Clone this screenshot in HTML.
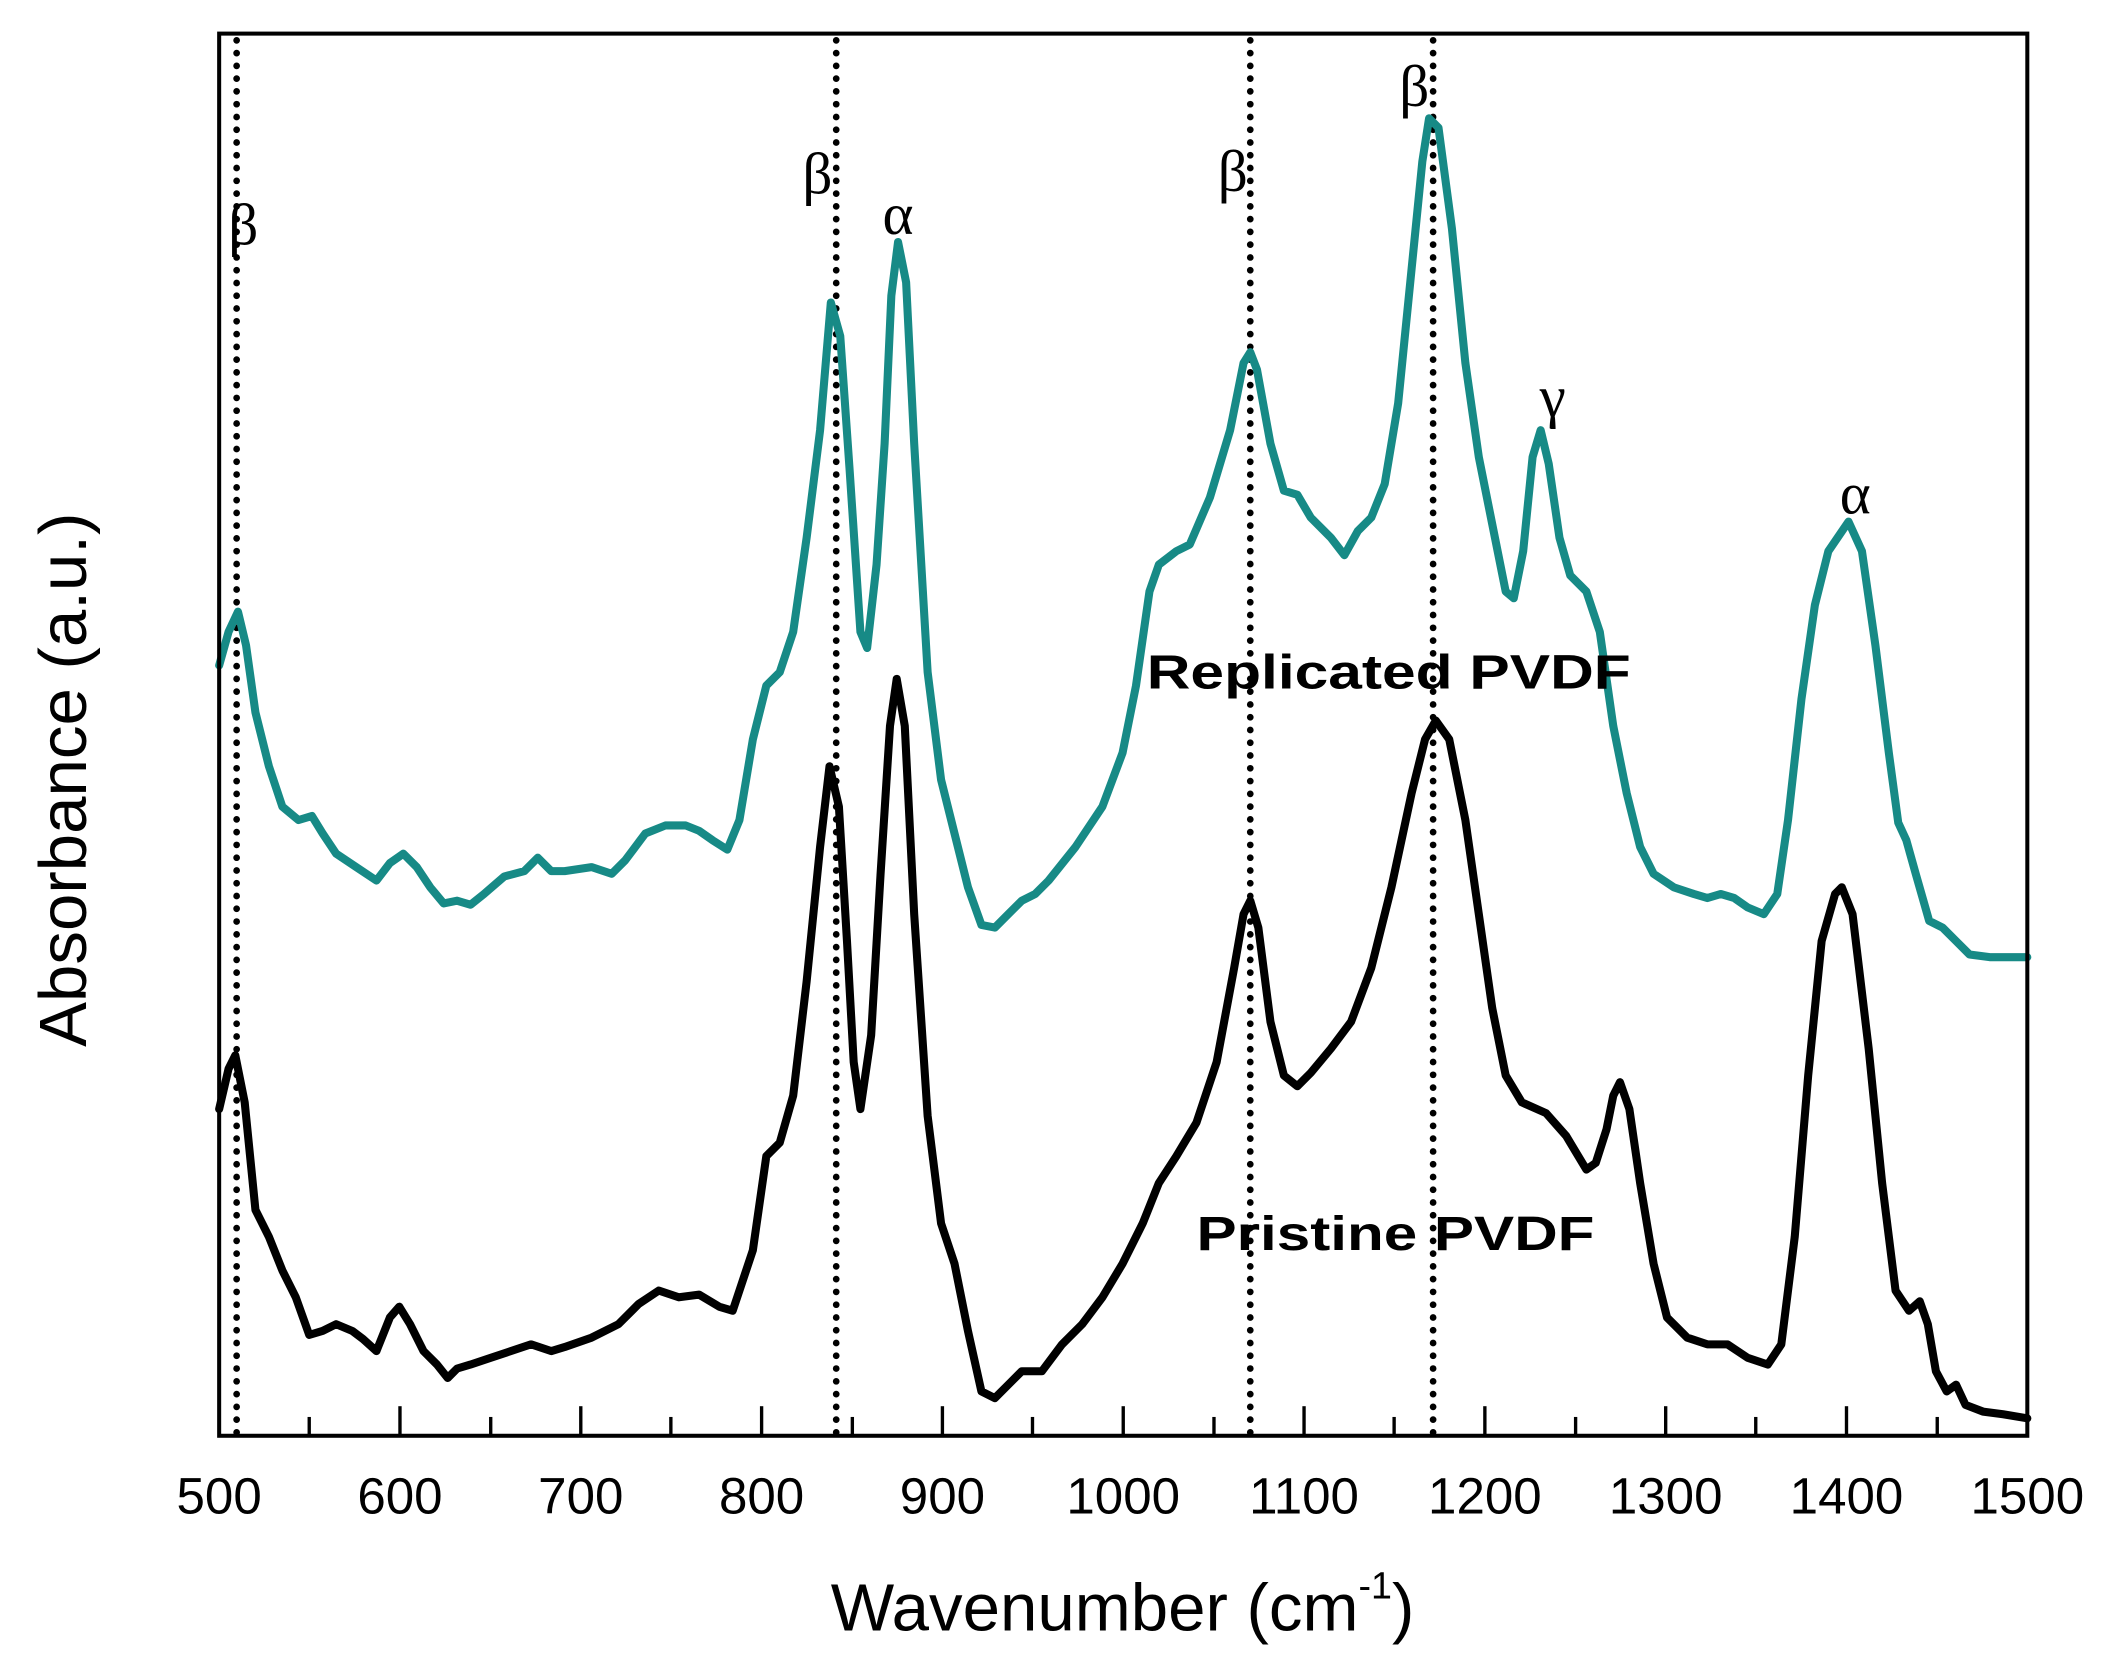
<!DOCTYPE html>
<html><head><meta charset="utf-8"><style>
html,body{margin:0;padding:0;background:#fff;}
svg{display:block;}
</style></head><body>
<svg width="2108" height="1667" viewBox="0 0 1568 1240" xmlns="http://www.w3.org/2000/svg" font-family="Liberation Sans, Arial, sans-serif">
<rect width="1568" height="1240" fill="#fff"/>
<g stroke="#000" stroke-width="5" stroke-linecap="round" stroke-dasharray="0 9.5" fill="none">
<line x1="176" y1="30" x2="176" y2="1066"/>
<line x1="622" y1="30" x2="622" y2="1066"/>
<line x1="930" y1="30" x2="930" y2="1066"/>
<line x1="1066" y1="30" x2="1066" y2="1066"/>
</g>
<polyline fill="none" stroke="#178a86" stroke-width="6" stroke-linejoin="round" stroke-linecap="round" points="163,495 170,470 177,455 183,480 190,530 200,570 210,600 222,610 232,607 240,620 250,635 265,645 280,655 290,642 300,635 310,645 320,660 330,672 340,670 350,673 360,665 375,652 390,648 400,638 410,648 420,648 440,645 455,650 465,640 480,620 495,614 510,614 520,618 530,625 541,632 550,610 560,550 570,510 580,500 590,470 600,400 610,320 618,225 625,250 632,350 640,470 645,482 652,420 658,330 663,220 668,180 674,210 680,330 690,500 700,580 710,620 720,660 730,688 740,690 750,680 760,670 770,665 780,655 800,630 820,600 835,560 845,510 855,440 862,420 875,410 885,405 900,370 915,320 925,270 930,262 935,275 945,330 955,365 965,368 975,385 990,400 1000,413 1010,395 1020,385 1030,360 1040,300 1050,200 1058,120 1063,88 1070,95 1080,170 1090,270 1100,340 1110,390 1120,440 1126,445 1133,410 1140,340 1146,320 1152,345 1160,400 1168,428 1180,440 1190,470 1200,540 1210,590 1220,630 1230,650 1245,660 1260,665 1270,668 1280,665 1290,668 1300,675 1312,680 1322,665 1330,610 1340,520 1350,450 1360,410 1375,388 1385,410 1395,480 1405,560 1412,612 1418,625 1425,650 1435,685 1445,690 1455,700 1465,710 1480,712 1495,712 1508,712"/>
<polyline fill="none" stroke="#000" stroke-width="6" stroke-linejoin="round" stroke-linecap="round" points="163,825 170,795 175,785 182,820 190,900 200,920 210,945 220,965 230,993 240,990 250,985 262,990 270,996 280,1005 290,980 297,972 305,985 315,1005 325,1015 333,1025 340,1018 350,1015 365,1010 380,1005 395,1000 410,1005 420,1002 440,995 460,985 475,970 490,960 505,965 520,963 535,972 545,975 560,930 570,860 580,850 590,815 600,730 610,630 617,570 624,600 630,700 635,790 640,825 648,770 655,650 662,540 667,505 673,540 680,680 690,830 700,910 710,940 720,990 730,1035 740,1040 750,1030 760,1020 775,1020 790,1000 805,985 820,965 835,940 850,910 862,880 875,860 890,835 905,790 918,720 925,680 930,670 936,690 945,760 955,800 965,808 975,798 990,780 1005,760 1020,720 1035,660 1050,590 1060,550 1068,536 1078,550 1090,610 1100,680 1110,750 1120,800 1132,820 1150,828 1165,845 1180,870 1187,865 1195,840 1200,815 1205,805 1212,825 1220,880 1230,940 1240,980 1255,995 1270,1000 1285,1000 1300,1010 1315,1015 1325,1000 1335,920 1345,800 1355,700 1365,665 1370,660 1378,680 1390,780 1400,880 1410,960 1420,975 1428,968 1434,985 1440,1020 1448,1035 1455,1030 1462,1045 1475,1050 1490,1052 1508,1055"/>
<rect x="163" y="25" width="1345" height="1043" fill="none" stroke="#000" stroke-width="3"/>
<g stroke="#000" stroke-width="2.5">
<line x1="297.5" y1="1068" x2="297.5" y2="1046"/><line x1="432" y1="1068" x2="432" y2="1046"/><line x1="566.5" y1="1068" x2="566.5" y2="1046"/><line x1="701" y1="1068" x2="701" y2="1046"/><line x1="835.5" y1="1068" x2="835.5" y2="1046"/><line x1="970" y1="1068" x2="970" y2="1046"/><line x1="1104.5" y1="1068" x2="1104.5" y2="1046"/><line x1="1239" y1="1068" x2="1239" y2="1046"/><line x1="1373.5" y1="1068" x2="1373.5" y2="1046"/>
<line x1="230" y1="1068" x2="230" y2="1054"/><line x1="365" y1="1068" x2="365" y2="1054"/><line x1="499" y1="1068" x2="499" y2="1054"/><line x1="634" y1="1068" x2="634" y2="1054"/><line x1="768" y1="1068" x2="768" y2="1054"/><line x1="903" y1="1068" x2="903" y2="1054"/><line x1="1037" y1="1068" x2="1037" y2="1054"/><line x1="1172" y1="1068" x2="1172" y2="1054"/><line x1="1306" y1="1068" x2="1306" y2="1054"/><line x1="1441" y1="1068" x2="1441" y2="1054"/>
</g>
<g font-size="38" text-anchor="middle" fill="#000">
<text x="163" y="1126">500</text><text x="297.5" y="1126">600</text><text x="432" y="1126">700</text><text x="566.5" y="1126">800</text><text x="701" y="1126">900</text><text x="835.5" y="1126">1000</text><text x="970" y="1126">1100</text><text x="1104.5" y="1126">1200</text><text x="1239" y="1126">1300</text><text x="1373.5" y="1126">1400</text><text x="1508" y="1126">1500</text>
</g>
<text x="835" y="1213" font-size="50" text-anchor="middle">Wavenumber (cm<tspan font-size="28" dy="-24">-1</tspan><tspan dy="24">)</tspan></text>
<text transform="translate(64,580) rotate(-90)" font-size="50" text-anchor="middle">Absorbance (a.u.)</text>
<g font-family="Liberation Serif, serif" font-size="44" text-anchor="middle" fill="#000">
<text x="181" y="182">β</text><text x="608" y="144">β</text><text x="668" y="174">α</text><text x="917" y="142">β</text><text x="1052" y="79">β</text><text x="1155" y="310">γ</text><text x="1380" y="382">α</text>
</g>
<g font-size="36" font-weight="bold" fill="#000">
<text x="853" y="512" textLength="360" lengthAdjust="spacingAndGlyphs">Replicated PVDF</text>
<text x="890" y="930" textLength="296" lengthAdjust="spacingAndGlyphs">Pristine PVDF</text>
</g>
</svg>
</body></html>
